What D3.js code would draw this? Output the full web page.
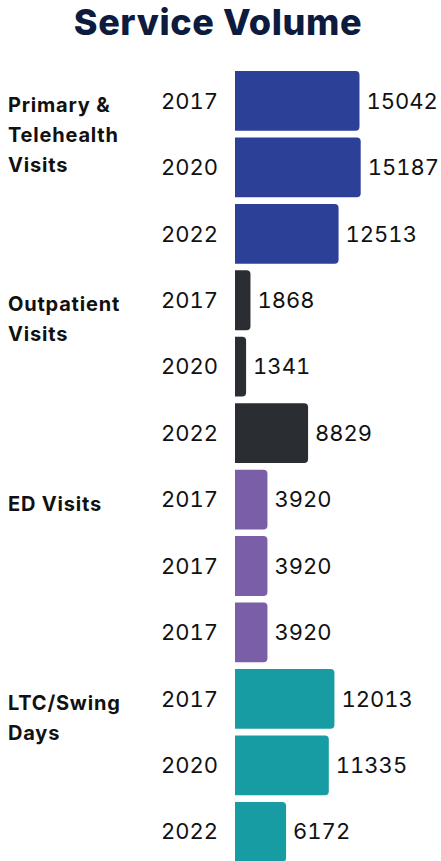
<!DOCTYPE html>
<html>
<head>
<meta charset="utf-8">
<script src="https://cdn.jsdelivr.net/npm/d3@7"></script>
<style>
  html, body { margin: 0; padding: 0; background: #fff; }
  svg { display: block; font-family: Inter, "Noto Sans", sans-serif; }
</style>
</head>
<body>
<svg id="chart" width="441" height="861"></svg>
<script>
// data
var groups = ['Primary & Telehealth Visits', 'Outpatient Visits', 'ED Visits', 'LTC/Swing Days'];
var groupLines = [['Primary &', 'Telehealth', 'Visits'], ['Outpatient', 'Visits'], ['ED Visits'], ['LTC/Swing', 'Days']];
var groupColors = ['#2c4098', '#2a2d31', '#7a5ea8', '#189ca3'];
var rowGroup = [0, 0, 0, 1, 1, 1, 2, 2, 2, 3, 3, 3];
var years = ['2017', '2020', '2022', '2017', '2020', '2022', '2017', '2017', '2017', '2017', '2020', '2022'];
var values = [15042, 15187, 12513, 1868, 1341, 8829, 3920, 3920, 3920, 12013, 11335, 6172];

var svg = d3.select('#chart');
var rows = values.map(function(v, i) {
    return {i: i, value: v, year: years[i], group: rowGroup[i]};
});

var x = d3.scaleLinear()
    .domain([0, d3.max(values)])
    .range([235, 360.7]);

var y = d3.scaleBand()
    .domain(d3.range(rows.length))
    .range([67.7, 865])
    .paddingInner(0.1)
    .paddingOuter(0.05);

// bar with square left corners and rounded right corners
function barPath(x0, x1, y0, h, r) {
    r = Math.min(r, (x1 - x0) / 2, h / 2);
    return 'M' + x0 + ',' + y0 +
        'H' + (x1 - r) +
        'Q' + x1 + ',' + y0 + ' ' + x1 + ',' + (y0 + r) +
        'V' + (y0 + h - r) +
        'Q' + x1 + ',' + (y0 + h) + ' ' + (x1 - r) + ',' + (y0 + h) +
        'H' + x0 + 'Z';
}

svg.append('text')
    .attr('x', 218)
    .attr('y', 35)
    .attr('text-anchor', 'middle')
    .style('font-size', '36px')
    .style('font-weight', 800)
    .style('letter-spacing', '0.6px')
    .style('fill', '#0d1b3e')
    .text('Service Volume');

svg.selectAll('path.bar')
    .data(rows)
    .enter().append('path')
    .attr('class', 'bar')
    .attr('d', function(d) {
        return barPath(x(0), x(d.value), y(d.i), y.bandwidth(), 4);
    })
    .style('fill', function(d) { return groupColors[d.group]; });

svg.selectAll('text.year')
    .data(rows)
    .enter().append('text')
    .attr('class', 'year')
    .attr('x', 218)
    .attr('y', function(d) { return y(d.i) + y.bandwidth() / 2; })
    .attr('dy', '0.35em')
    .attr('text-anchor', 'end')
    .style('font-size', '22px')
    .style('font-variant-numeric', 'tabular-nums')
    .style('fill', '#111')
    .text(function(d) { return d.year; });

svg.selectAll('text.value')
    .data(rows)
    .enter().append('text')
    .attr('class', 'value')
    .attr('x', function(d) { return x(d.value) + 7; })
    .attr('y', function(d) { return y(d.i) + y.bandwidth() / 2; })
    .attr('dy', '0.35em')
    .style('font-size', '22px')
    .style('font-variant-numeric', 'tabular-nums')
    .style('fill', '#111')
    .text(function(d) { return d.value; });

// group labels, first line level with the group's first bar
var groupStart = groups.map(function(g, gi) { return rowGroup.indexOf(gi); });

svg.selectAll('text.group')
    .data(groups)
    .enter().append('text')
    .attr('class', 'group')
    .attr('x', 8)
    .attr('y', function(g, gi) { return y(groupStart[gi]) + y.bandwidth() / 2 + 4; })
    .style('font-size', '20px')
    .style('font-weight', 700)
    .style('letter-spacing', '0.8px')
    .style('fill', '#111')
    .each(function(g, gi) {
        var t = d3.select(this);
        groupLines[gi].forEach(function(line, k) {
            t.append('tspan')
                .attr('x', 8)
                .attr('dy', k === 0 ? '0.35em' : 30)
                .text(line);
        });
    });
</script>
</body>
</html>
